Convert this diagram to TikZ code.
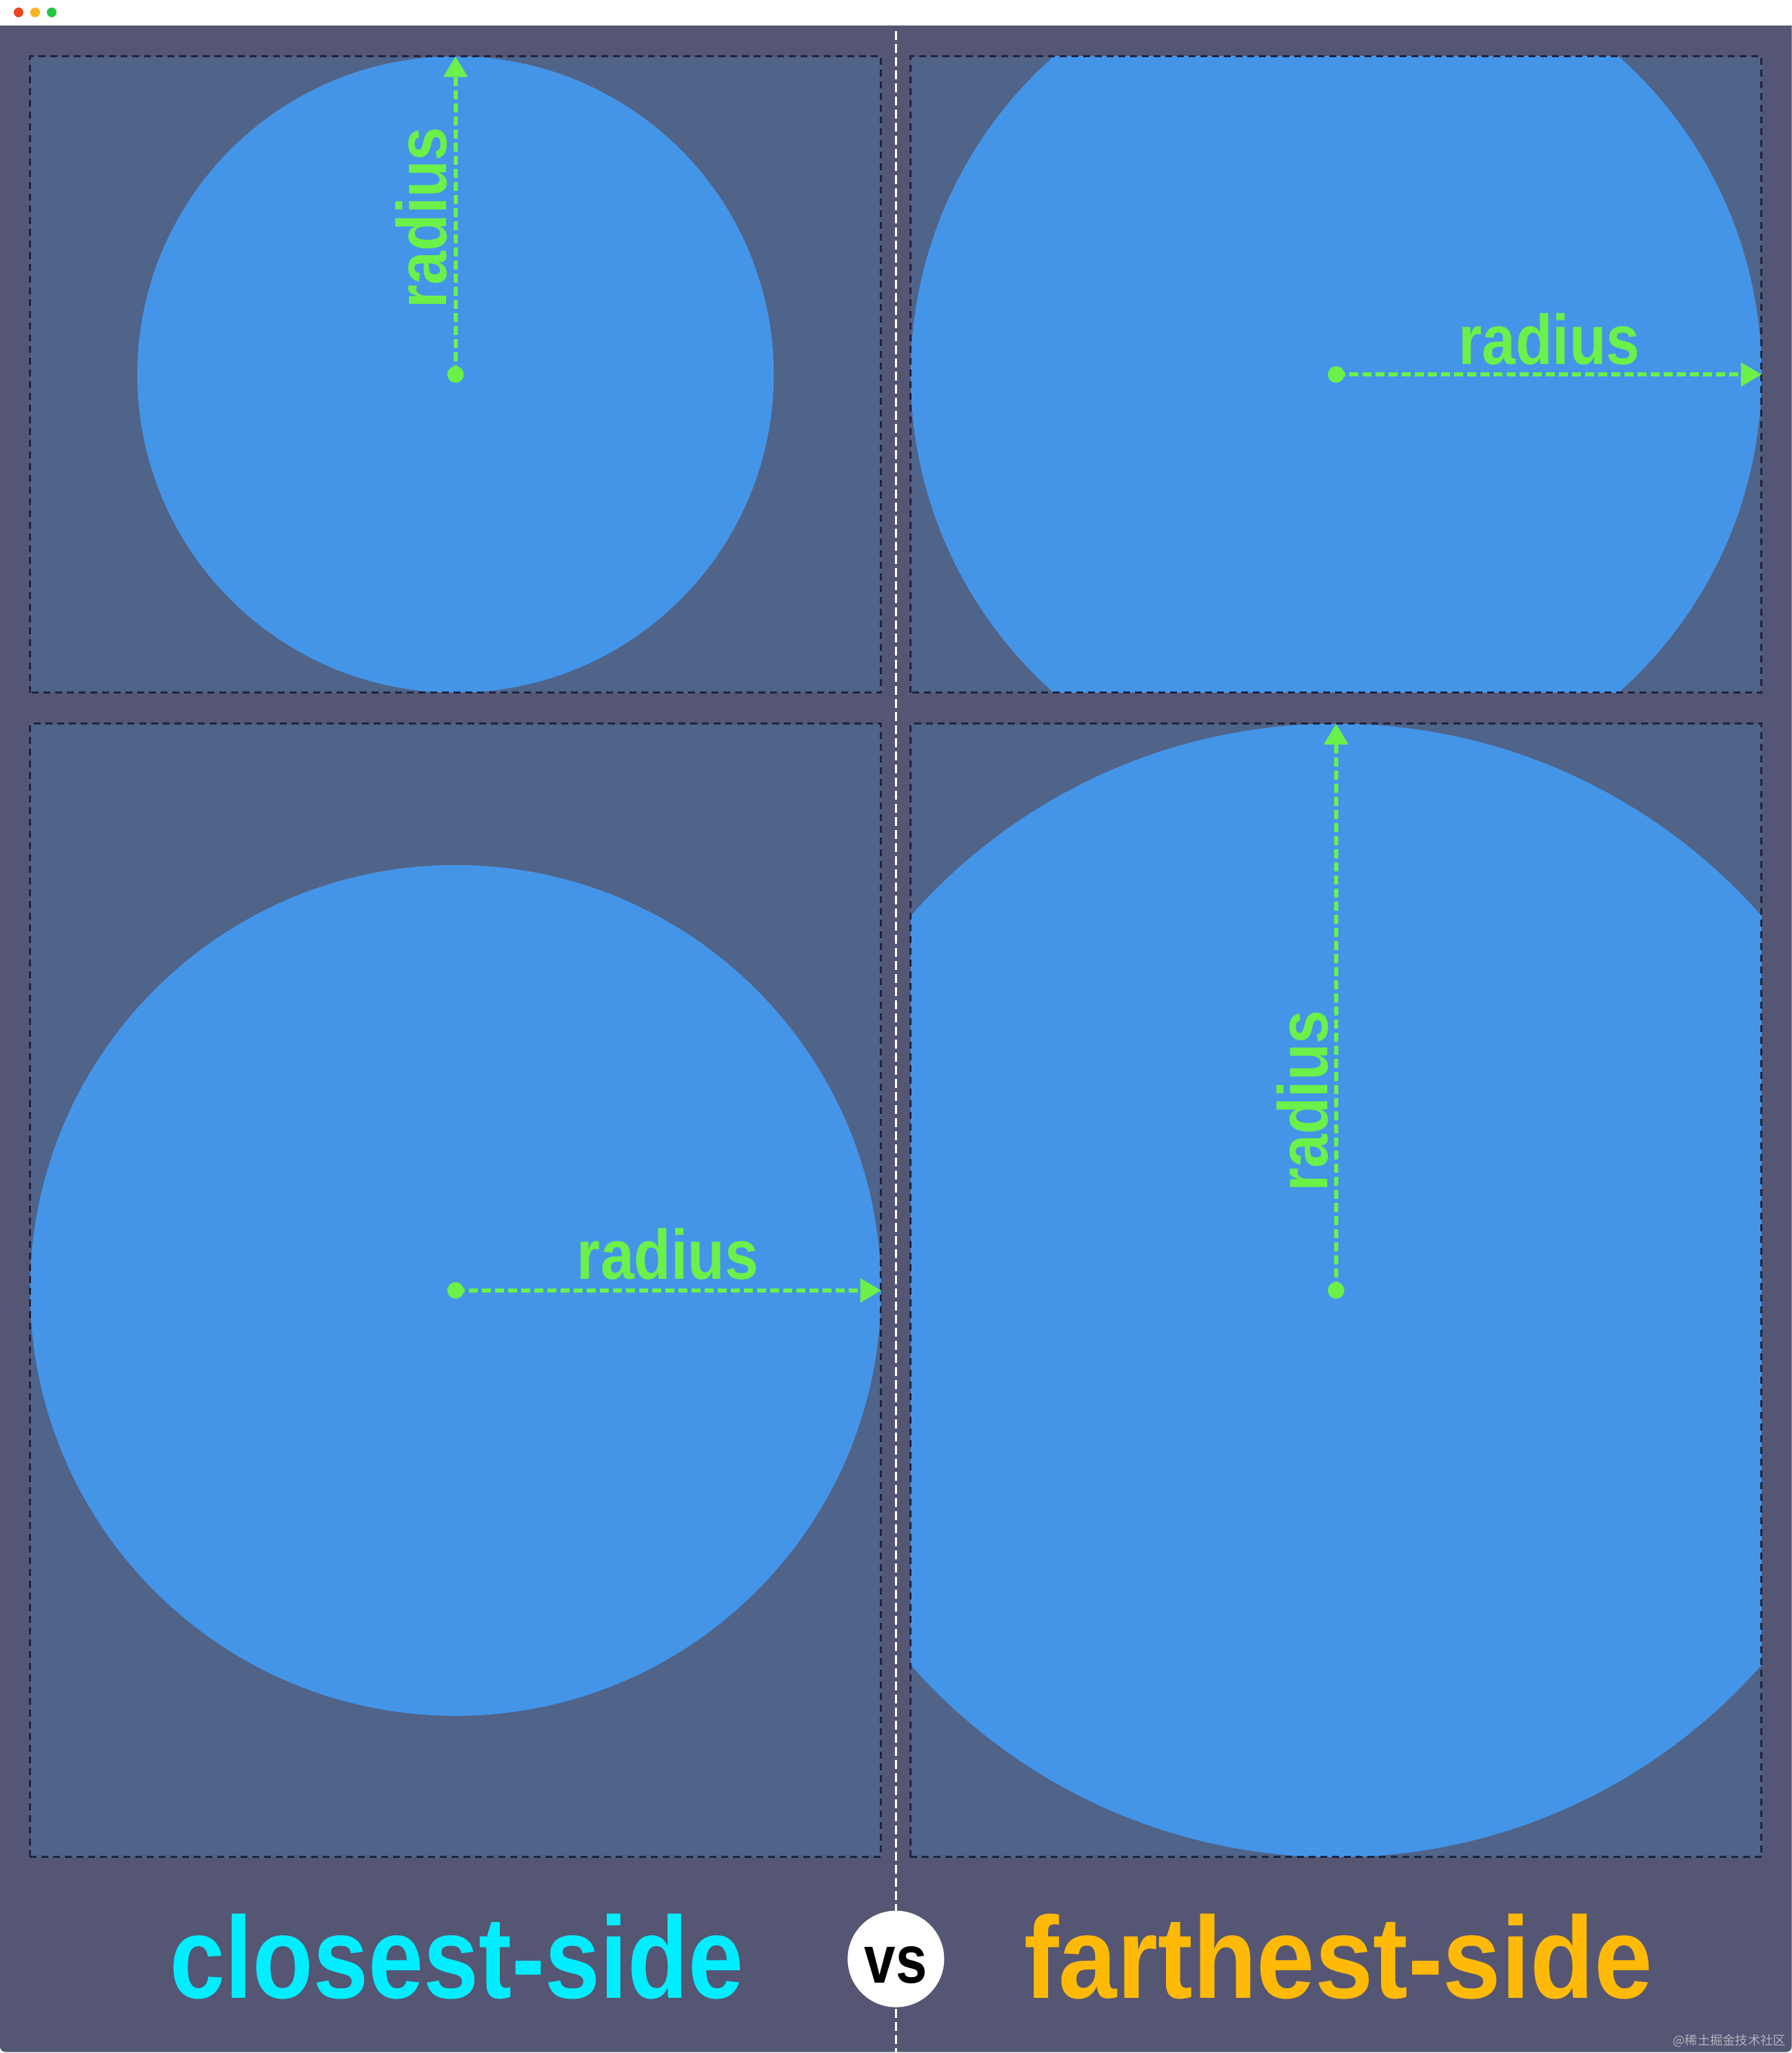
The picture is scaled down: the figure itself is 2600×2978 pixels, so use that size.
\documentclass[tikz,border=0pt]{standalone}
\usepackage{fontspec}
\setmainfont{Liberation Sans}
\newfontfamily\cjkfont{Noto Sans CJK SC}
\usetikzlibrary{positioning, arrows.meta}

\definecolor{winbg}{HTML}{545673}
\definecolor{panelbg}{HTML}{506389}
\definecolor{disc}{HTML}{4495E8}
\definecolor{rgreen}{HTML}{6CF04A}
\definecolor{cyanish}{HTML}{00EEFF}
\definecolor{amber}{HTML}{FFBA08}
\definecolor{edge}{HTML}{1C2340}
\definecolor{dotred}{HTML}{EE4422}
\definecolor{dotyellow}{HTML}{FBB41F}
\definecolor{dotgreen}{HTML}{22C840}

\newcommand{\radtext}{\scalebox{0.86}[1]{radius}}

\begin{document}
\begin{tikzpicture}[x=0.01cm, y=-0.01cm,
	panel/.style={rectangle, fill=panelbg, minimum width=12.34cm, minimum height=9.23cm, inner sep=0pt, outer sep=0pt},
	frame/.style={draw=edge, line width=0.03cm, dash pattern=on 0.1cm off 0.07cm},
	radline/.style={rgreen, line width=0.06cm, dash pattern=on 0.13cm off 0.06cm, -{Triangle[length=0.3cm, width=0.34cm]}},
	radlabel/.style={text=rgreen, font=\bfseries\fontsize{29}{29}\selectfont, inner sep=0pt, anchor=base},
	divider/.style={white, line width=0.03cm, dash pattern=on 0.13cm off 0.06cm},
	title/.style={font=\bfseries\fontsize{48}{48}\selectfont, inner sep=0pt, anchor=base}]

	\fill[white] (0,0) rectangle (2600,2978);
	\fill[winbg, rounded corners=0.08cm] (0,0) rectangle (2600,2978);
	\fill[white] (0,0) rectangle (2600,37);
	\fill[dotred] (27,18) circle[radius=0.07cm];
	\fill[dotyellow] (51,18) circle[radius=0.07cm];
	\fill[dotgreen] (75,18) circle[radius=0.07cm];

	\node[panel] (p1) at (661,543.5) {};
	\node[panel, right=0.43cm of p1] (p2) {};
	\node[panel, below=0.45cm of p1, minimum height=16.44cm] (p3) {};
	\node[panel, right=0.43cm of p3, minimum height=16.44cm] (p4) {};

	\foreach \p/\r in {p1/4.615, p2/6.17, p3/6.17, p4/8.22} {
		\begin{scope}
			\clip (\p.south west) rectangle (\p.north east);
			\fill[disc] (\p.center) circle[radius=\r cm];
		\end{scope}
	}
	\foreach \p in {p1, p2, p3, p4}
		\draw[frame] (\p.south west) rectangle (\p.north east);

	\fill[rgreen] (p1.center) circle[radius=0.12cm];
	\fill[rgreen] (p2.center) circle[radius=0.12cm];
	\fill[rgreen] (p3.center) circle[radius=0.12cm];
	\fill[rgreen] (p4.center) circle[radius=0.12cm];
	\draw[radline] (p1.center) -- (p1.north);
	\draw[radline] (p2.center) -- (p2.east);
	\draw[radline] (p3.center) -- (p3.east);
	\draw[radline] (p4.center) -- (p4.north);

	\node[radlabel, rotate=90] (r1) at (648,316) {\radtext};
	\node[radlabel] (r2) at (2248,529) {\radtext};
	\node[radlabel] (r3) at (969,1856) {\radtext};
	\node[radlabel, rotate=90] (r4) at (1926,1598) {\radtext};

	\coordinate (divtop) at (1300,45);
	\coordinate (divbot) at (1300,2978);
	\draw[divider] (divtop) -- (divbot);

	\node[circle, fill=white, minimum size=1.4cm, inner sep=0pt] (vs) at (1300,2843) {};
	\node[font=\bfseries\fontsize{28}{28}\selectfont, inner sep=0pt, anchor=base] (vstext) at (1300,2878) {\scalebox{0.83}[1]{vs}};

	\node[title, text=cyanish] (closest) at (663,2900) {\scalebox{0.853}[1]{closest-side}};
	\node[title, text=amber] (farthest) at (1942,2900) {\scalebox{0.9}[1]{farthest-side}};

	\node[font=\cjkfont\fontsize{5.2}{5.2}\selectfont, text=white!55!winbg, inner sep=0pt, anchor=base east] (mark) at (2592,2968) {@稀土掘金技术社区};
\end{tikzpicture}
\end{document}
